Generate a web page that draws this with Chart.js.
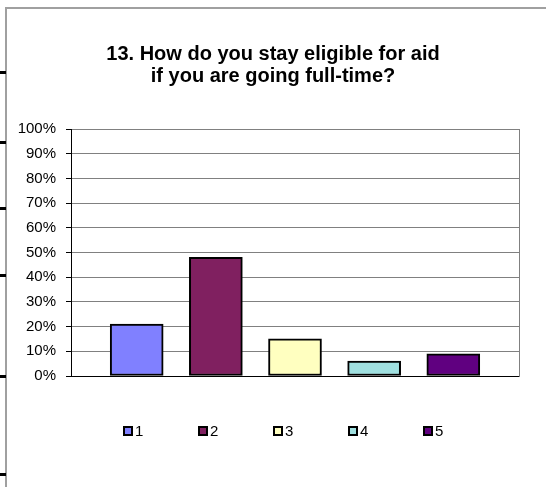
<!DOCTYPE html>
<html>
<head>
<meta charset="utf-8">
<script src="https://cdn.jsdelivr.net/npm/chart.js@4/dist/chart.umd.min.js"></script>
<style>
    body { margin: 0; background: #fff; font-family: "Liberation Sans", Arial, sans-serif; }
    #wrap { position: relative; width: 546px; height: 487px; overflow: hidden; }
    #frame { position: absolute; left: 5px; top: 7px; right: -2px; bottom: -2px; border-left: 2px solid #a0a0a0; border-top: 2px solid #a0a0a0; }
    .sidetick { position: absolute; left: 0; width: 6px; height: 3px; background: #000; }
    canvas { position: absolute; left: 0; top: 0; }
    #barlegend { position: absolute; left: 123px; top: 422px; display: flex; }
    .legend-item { width: 75px; display: flex; align-items: center; font-size: 15px; color: #000; }
    .legend-color { width: 6px; height: 6px; border: 2px solid #000; margin-right: 2px; }
</style>
</head>
<body>
<div id="wrap">
    <div id="frame"></div>
    <div class="sidetick" style="top:71px"></div>
    <div class="sidetick" style="top:141px"></div>
    <div class="sidetick" style="top:207px"></div>
    <div class="sidetick" style="top:274px"></div>
    <div class="sidetick" style="top:375px"></div>
    <div class="sidetick" style="top:473px"></div>
    <canvas id="barChart" width="546" height="487"></canvas>
    <div id="barlegend"></div>
</div>
<script>
// answer choices and share of responses (%)
const categories = ['1', '2', '3', '4', '5'];
const responses = [21, 48, 15, 6, 9];
const colors = ['#8080ff', '#802060', '#ffffc0', '#a0e0e0', '#600080'];
const titleLines = ['13. How do you stay eligible for aid', 'if you are going full-time?'];

const renderBarChart = (labels, data, barColors) => {
    const ctx = document.getElementById("barChart").getContext("2d");

    // bars sit on a numeric x axis so the outer margins can match the original
    const points = labels.map((label, i) => ({ x: Number(label), y: data[i] }));

    window.barChartInstance = new Chart(ctx, {
        type: "bar",
        data: {
            datasets: [
                {
                    label: "Responses",
                    data: points,
                    backgroundColor: barColors,
                    borderColor: "#000",
                    borderWidth: 2,
                    borderSkipped: false,
                    barThickness: 53,
                },
            ],
        },
        options: {
            responsive: false,
            animation: false,
            layout: { padding: { left: 0, right: 0, top: 0, bottom: 111 } },
            plugins: {
                legend: { display: false }, // legend is drawn below as html
                tooltip: { enabled: false },
                title: {
                    display: true,
                    text: titleLines,
                    color: "#000",
                    font: { family: "'Liberation Sans', Arial, sans-serif", size: 20, weight: "bold", lineHeight: 1.1 },
                    padding: { top: 43, bottom: 42 },
                },
            },
            scales: {
                x: {
                    type: "linear",
                    min: 0.17,
                    max: 5.83,
                    offset: false,
                    afterFit: (scale) => { scale.height = 0; },
                    ticks: { display: false },
                    grid: { display: false, drawTicks: false },
                    border: { color: "#000", width: 1 },
                },
                y: {
                    min: 0,
                    max: 100,
                    afterFit: (scale) => { scale.width = 71; },
                    ticks: {
                        stepSize: 10,
                        color: "#000",
                        padding: 10,
                        font: { family: "'Liberation Sans', Arial, sans-serif", size: 15 },
                        callback: (v) => v + "%",
                    },
                    grid: { color: "#808080", tickColor: "#000", tickLength: 5 },
                    border: { color: "#000", width: 1 },
                },
                yRight: {
                    position: "right",
                    min: 0,
                    max: 100,
                    afterFit: (scale) => { scale.width = 27; },
                    ticks: { display: false },
                    grid: { drawOnChartArea: false, drawTicks: false },
                    border: { color: "#808080", width: 1 },
                },
            },
        },
    });
};

// Function to render the legend
const renderBarLegend = (labels, barColors) => {
    const legendContainer = document.getElementById("barlegend");
    legendContainer.innerHTML = "";

    labels.forEach((label, index) => {
        const legendItem = document.createElement("div");
        legendItem.classList.add("legend-item");

        const colorBox = document.createElement("div");
        colorBox.classList.add("legend-color");
        colorBox.style.backgroundColor = barColors[index];

        const text = document.createElement("span");
        text.textContent = label;

        legendItem.appendChild(colorBox);
        legendItem.appendChild(text);
        legendContainer.appendChild(legendItem);
    });
};

renderBarChart(categories, responses, colors);
renderBarLegend(categories, colors);
</script>
</body>
</html>
